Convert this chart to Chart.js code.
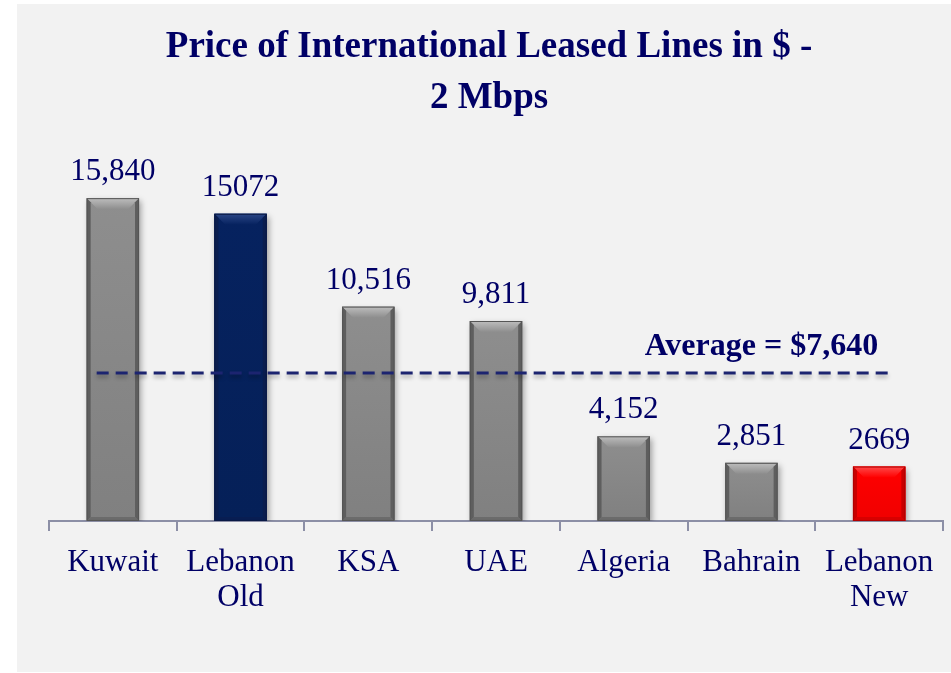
<!DOCTYPE html>
<html>
<head>
<meta charset="utf-8">
<script src="https://cdn.jsdelivr.net/npm/chart.js@4/dist/chart.umd.min.js"></script>
<style>
  html, body { margin: 0; padding: 0; background: #ffffff; }
  #wrap { width: 951px; height: 673px; position: relative; }
</style>
</head>
<body>
<div id="wrap"><canvas id="c" width="951" height="673"></canvas></div>
<script>
// ---- data ----
const categories = [['Kuwait'], ['Lebanon', 'Old'], ['KSA'], ['UAE'], ['Algeria'], ['Bahrain'], ['Lebanon', 'New']];
const prices = [15840, 15072, 10516, 9811, 4152, 2851, 2669];
const valueLabels = ['15,840', '15072', '10,516', '9,811', '4,152', '2,851', '2669'];
const barKinds = ['gray', 'navy', 'gray', 'gray', 'gray', 'gray', 'red'];
const averageLineLevel = 7260;          // where the dashed line sits in the picture
const averageText = 'Average = $7,640';
const titleLines = ['Price of International Leased Lines in $ -', '2 Mbps'];

const SERIF = "'Liberation Serif', 'Times New Roman', serif";
const TEXT = '#000066';

const palette = {
  gray: { body: '#8e8e8e', bodyLow: '#808080', top: '#bebebe', side: '#5e5e5e', edge: '#555555' },
  navy: { body: '#06225f', bodyLow: '#052058', top: '#2a4686', side: '#0a1d4e', edge: '#0b1a45' },
  red:  { body: '#ff0000', bodyLow: '#f00000', top: '#ff4a4a', side: '#c80000', edge: '#b00000' }
};

const panelPlugin = {
  id: 'panel',
  beforeDraw(chart) {
    const ctx = chart.ctx;
    ctx.save();
    ctx.fillStyle = '#ffffff';
    ctx.fillRect(0, 0, chart.width, chart.height);
    ctx.fillStyle = '#f2f2f2';
    ctx.fillRect(17, 4, chart.width - 17, chart.height - 5);
    ctx.restore();
  }
};

const bevelPlugin = {
  id: 'bevel',
  beforeDatasetsDraw(chart) {
    const ctx = chart.ctx;
    ctx.save();
    ctx.shadowColor = 'rgba(0,0,0,0.35)';
    ctx.shadowBlur = 6;
    ctx.shadowOffsetX = 2;
    ctx.shadowOffsetY = 3;
  },
  afterDatasetsDraw(chart) {
    const ctx = chart.ctx;
    ctx.restore();
    const meta = chart.getDatasetMeta(0);
    meta.data.forEach((bar, i) => {
      const p = palette[barKinds[i]];
      const { x, y, width, base } = bar.getProps(['x', 'y', 'width', 'base'], true);
      const l = x - width / 2, r = x + width / 2, t = y, b = base;
      const s = 4, st = 11;
      ctx.save();
      const g = ctx.createLinearGradient(0, t, 0, b);
      g.addColorStop(0, p.body);
      g.addColorStop(1, p.bodyLow);
      ctx.fillStyle = g;
      ctx.fillRect(l, t, width, b - t);
      const tg = ctx.createLinearGradient(0, t, 0, t + st);
      tg.addColorStop(0, p.top);
      tg.addColorStop(1, p.body);
      ctx.fillStyle = tg;
      ctx.beginPath();
      ctx.moveTo(l, t); ctx.lineTo(r, t); ctx.lineTo(r - st, t + st); ctx.lineTo(l + st, t + st); ctx.closePath();
      ctx.fill();
      ctx.fillStyle = p.side;
      ctx.beginPath();
      ctx.moveTo(l, t); ctx.lineTo(l + s, t + s); ctx.lineTo(l + s, b - s); ctx.lineTo(l, b); ctx.closePath();
      ctx.fill();
      ctx.beginPath();
      ctx.moveTo(r, t); ctx.lineTo(r - s, t + s); ctx.lineTo(r - s, b - s); ctx.lineTo(r, b); ctx.closePath();
      ctx.fill();
      ctx.globalAlpha = 0.6;
      ctx.beginPath();
      ctx.moveTo(l, b); ctx.lineTo(l + s, b - s); ctx.lineTo(r - s, b - s); ctx.lineTo(r, b); ctx.closePath();
      ctx.fill();
      ctx.globalAlpha = 1;
      ctx.strokeStyle = p.edge;
      ctx.lineWidth = 1;
      ctx.strokeRect(l + 0.5, t + 0.5, width - 1, b - t - 1);
      ctx.restore();

      ctx.save();
      ctx.fillStyle = TEXT;
      ctx.font = '31px ' + SERIF;
      ctx.textAlign = 'center';
      ctx.textBaseline = 'alphabetic';
      ctx.fillText(valueLabels[i], x, t - 18);
      ctx.restore();
    });

    const ys = chart.scales.y;
    const ly = ys.getPixelForValue(averageLineLevel);
    const b0 = meta.data[0].getProps(['x', 'width'], true);
    const b6 = meta.data[meta.data.length - 1].getProps(['x', 'width'], true);
    const x0 = b0.x - b0.width / 2 + 10;
    const x1 = b6.x + 13;
    ctx.save();
    ctx.shadowColor = 'rgba(0,0,0,0.3)';
    ctx.shadowBlur = 4;
    ctx.shadowOffsetY = 3;
    ctx.strokeStyle = '#1c2470';
    ctx.lineWidth = 3;
    ctx.setLineDash([12, 7]);
    ctx.beginPath();
    ctx.moveTo(x0, ly); ctx.lineTo(x1, ly);
    ctx.stroke();
    ctx.restore();

    ctx.save();
    ctx.fillStyle = TEXT;
    ctx.font = 'bold 32px ' + SERIF;
    ctx.textAlign = 'center';
    ctx.textBaseline = 'alphabetic';
    const xs = chart.scales.x;
    ctx.fillText(averageText, xs.getPixelForValue(5) + 10, ly - 18);
    ctx.restore();
  }
};

new Chart(document.getElementById('c'), {
  type: 'bar',
  data: {
    labels: categories,
    datasets: [{
      data: prices,
      backgroundColor: barKinds.map(k => palette[k].body),
      borderWidth: 0,
      barPercentage: 0.41,
      categoryPercentage: 1.0
    }]
  },
  options: {
    responsive: false,
    animation: false,
    devicePixelRatio: 1,
    layout: { padding: { left: 35, right: 8, top: 0, bottom: 44 } },
    plugins: {
      legend: { display: false },
      tooltip: { enabled: false },
      title: {
        display: true,
        text: titleLines,
        color: TEXT,
        font: { family: SERIF, size: 37, weight: 'bold', lineHeight: 1.38 },
        padding: { top: 22, bottom: 30 }
      }
    },
    scales: {
      x: {
        grid: { display: true, drawOnChartArea: false, drawTicks: true, tickLength: 10, color: '#8c8fa6', lineWidth: 2, offset: true },
        border: { display: true, color: '#8c8fa6', width: 2 },
        ticks: { color: TEXT, font: { family: SERIF, size: 31, lineHeight: 1.13 }, padding: 14, maxRotation: 0, autoSkip: false }
      },
      y: {
        min: 0,
        max: 18000,
        grid: { display: false },
        border: { display: false },
        ticks: { display: false },
        afterFit(scale) { scale.width = 14; }
      }
    }
  },
  plugins: [panelPlugin, bevelPlugin]
});
</script>
</body>
</html>
